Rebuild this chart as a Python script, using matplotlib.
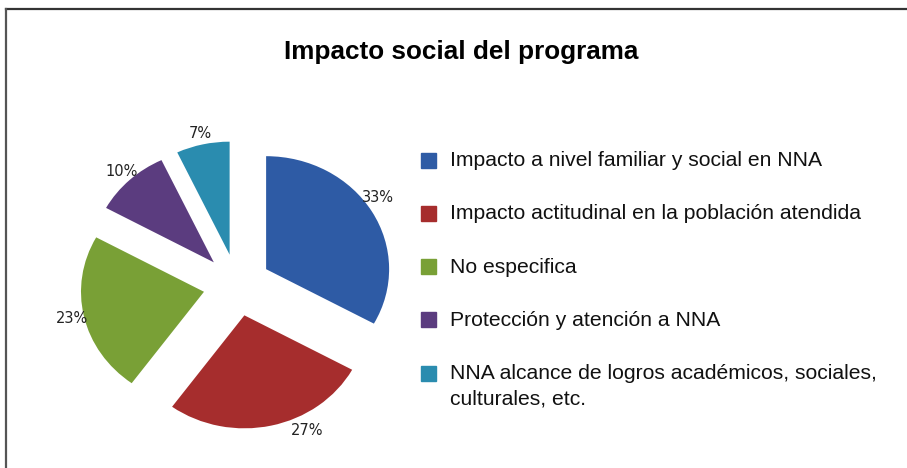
import matplotlib
matplotlib.use('Agg')
import matplotlib.pyplot as plt
from matplotlib.patches import Rectangle
from matplotlib.lines import Line2D

# Impacto social del programa - porcentajes por categoria
categorias = ['Impacto a nivel familiar y social en NNA',
              'Impacto actitudinal en la población atendida',
              'No especifica',
              'Protección y atención a NNA',
              'NNA alcance de logros académicos, sociales,\nculturales, etc.']
valores = [33, 27, 23, 10, 7]
colores = ['#2E5BA5', '#A62D2D', '#79A036', '#5B3C7F', '#2A8CAF']

W, H = 907, 468
fig = plt.figure(figsize=(W / 100, H / 100), dpi=100)

# pie axes: centre at (237, 285) px from top-left, slightly flattened
RX, RY = 123.0, 113.0
cx, cy = 237, H - 285
half_w, half_h = 200, 170
ax = fig.add_axes([(cx - half_w) / W, (cy - half_h) / H, 2 * half_w / W, 2 * half_h / H])
wedges, texts, autotexts = ax.pie(
    valores, colors=colores, startangle=90, counterclock=False,
    explode=[0.275] * len(valores), radius=1.0,
    autopct='%1.0f%%', pctdistance=1.1,
    wedgeprops=dict(linewidth=0),
    textprops=dict(fontsize=10.5, family=['Liberation Sans Narrow', 'DejaVu Sans'],
                   color='#222222'))
ax.set_xlim(-half_w / RX, half_w / RX)
ax.set_ylim(-half_h / RY, half_h / RY)
ax.set_aspect('auto')
ax.axis('off')

# the 27% label sits a little to the right of its slice centre
px, py = autotexts[1].get_position()
autotexts[1].set_position((px + 0.27, py + 0.05))
px, py = autotexts[0].get_position()
autotexts[0].set_position((px - 0.04, py + 0.07))

fig.text(461 / W, 1 - 52 / H, 'Impacto social del programa', ha='center', va='center',
         fontsize=18.8, fontweight='bold', family=['Liberation Sans', 'DejaVu Sans'])

# legend drawn by hand, first text line aligned with the swatch
for i, (lab, col) in enumerate(zip(categorias, colores)):
    y = 160 + i * 53.3
    fig.patches.append(Rectangle((421 / W, 1 - (y + 7.5) / H), 15 / W, 15 / H,
                                 transform=fig.transFigure, color=col))
    fig.text(450 / W, 1 - (y - 9) / H, lab, ha='left', va='top', fontsize=15.2,
             linespacing=1.42, color='#111111',
             family=['Liberation Sans', 'DejaVu Sans'])

# frame lines (top and left)
fig.add_artist(Line2D([6 / W, 1], [1 - 9 / H, 1 - 9 / H], transform=fig.transFigure,
                      color='#333333', lw=1.6))
fig.add_artist(Line2D([6 / W, 6 / W], [0, 1 - 9 / H], transform=fig.transFigure,
                      color='#555555', lw=1.6))

fig.savefig('out.png', dpi=100)
